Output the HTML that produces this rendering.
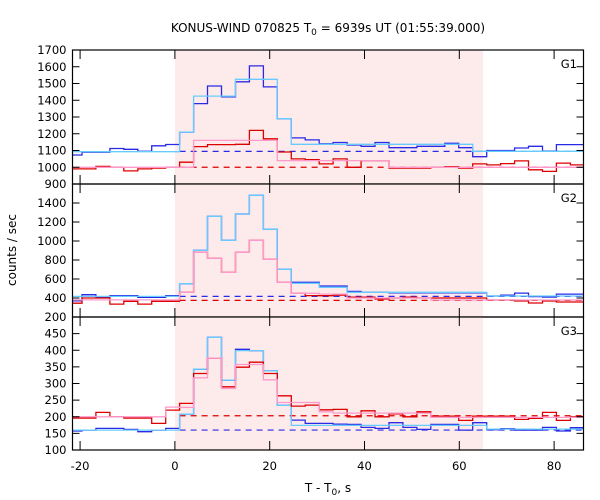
<!DOCTYPE html>
<html><head><meta charset="utf-8">
<style>
html,body{margin:0;padding:0;background:#fff;}
svg{display:block;font-family:"DejaVu Sans","Liberation Sans",sans-serif;}
</style></head>
<body>
<svg id="chart" width="600" height="500" viewBox="0 0 600 500">
  <text x="328" y="32" text-anchor="middle" font-size="12" fill="#000">KONUS-WIND 070825 T<tspan font-size="9" dy="3">0</tspan><tspan dy="-3"> = 6939s UT (01:55:39.000)</tspan></text>
  <text x="328" y="492" text-anchor="middle" font-size="12" fill="#000">T - T<tspan font-size="9" dy="3">0</tspan><tspan dy="-3">, s</tspan></text>
  <text transform="translate(16,250) rotate(-90)" text-anchor="middle" font-size="12" fill="#000">counts / sec</text>
  <g id="panels"></g>
</svg>
<script>
// ---- data ----
const binStart = -22.55;
const binWidth = 2.944;
const xTicks = [-20, 0, 20, 40, 60, 80];
const burstInterval = [0, 65];

const g1Blue = [1073,1090,1090,1112,1107,1095,1128,1136,1210,1380,1485,1420,1510,1605,1480,1290,1175,1163,1140,1148,1133,1125,1148,1117,1117,1125,1125,1143,1117,1063,1100,1100,1115,1125,1097,1135,1135];
const g1Cyan = [1093,1093,1093,1093,1093,1093,1093,1093,1210,1425,1425,1425,1525,1525,1525,1290,1137,1137,1137,1137,1137,1137,1137,1137,1137,1137,1137,1137,1137,1095,1095,1095,1095,1095,1095,1095,1095];
const g1Red = [990,990,1005,1000,978,990,995,1000,1030,1123,1135,1135,1137,1220,1170,1091,1050,1045,1020,1050,1000,1040,1040,995,995,995,1000,1004,995,1020,1014,1022,1038,985,975,1025,1014];
const g1Pink = [1000,1000,1000,1000,1000,1000,1000,1000,1000,1160,1160,1160,1160,1160,1160,1040,1040,1040,1040,1040,1040,1040,1040,1000,1000,1000,1000,1000,1000,1000,1000,1000,1000,1000,1000,1000,1000];
const g1Levels = [1095, 1000];
const g1Ticks = [900,1000,1100,1200,1300,1400,1500,1600,1700];

const g2Blue = [371,435,407,424,424,407,407,424,551,902,1260,1007,1284,1481,1123,702,565,565,526,526,470,460,460,455,455,455,455,455,455,455,421,431,452,415,410,441,441];
const g2Cyan = [417,417,417,417,417,417,417,417,551,902,1260,1007,1284,1481,1123,702,555,555,513,513,460,460,460,460,460,460,460,460,460,460,421,421,421,421,421,421,421];
const g2Red = [345,400,400,336,365,336,365,365,459,880,818,670,881,1007,807,565,450,425,424,431,410,410,389,400,410,400,400,400,400,400,379,379,368,347,368,358,358];
const g2Pink = [380,380,380,380,380,380,380,380,459,880,818,670,881,1007,807,565,449,449,441,441,400,400,400,400,400,400,379,379,379,379,379,379,379,379,379,379,379];
const g2Levels = [417, 375];
const g2Ticks = [200,400,600,800,1000,1200,1400];

const g3Blue = [157,160,165,165,162,155,160,165,208,343,439,310,403,399,338,234,190,180,180,178,177,168,165,182,168,162,177,177,160,182,161,164,160,160,168,157,167];
const g3Cyan = [160,160,160,160,160,160,160,160,208,343,439,310,399,399,338,234,174,174,174,174,174,174,174,174,174,174,174,174,174,174,163,163,163,163,163,163,163];
const g3Red = [196,196,213,200,196,196,180,220,240,330,376,290,349,364,330,263,232,235,221,222,200,218,200,209,200,215,202,202,189,202,202,202,192,195,213,189,200];
const g3Pink = [200,200,200,200,200,200,200,229,228,317,376,285,357,357,311,243,243,243,215,211,211,211,211,211,211,211,198,198,198,198,198,198,198,198,198,198,198];
const g3Levels = [160, 203];
const g3Ticks = [100,150,200,250,300,350,400,450];

// ---- layout ----
const L = 72.5, R = 583.5;
const xMin = -21.6, xMax = 86.2;
const panels = [
  {name:'g1', label:'G1', top:50, bot:184, yMin:900, yMax:1700, ticks:g1Ticks, series:[g1Blue,g1Cyan,g1Red,g1Pink], levels:g1Levels, levelColors:['#2a2ae6','#dd0000']},
  {name:'g2', label:'G2', top:184, bot:317, yMin:200, yMax:1600, ticks:g2Ticks, series:[g2Blue,g2Cyan,g2Red,g2Pink], levels:g2Levels, levelColors:['#2a2ae6','#dd0000']},
  {name:'g3', label:'G3', top:317, bot:450, yMin:100, yMax:500, ticks:g3Ticks, series:[g3Blue,g3Cyan,g3Red,g3Pink], levels:g3Levels, levelColors:['#2a2ae6','#dd0000']}
];
const seriesColors = ['#2a2ae6','#66ccff','#dd0000','#ff99cc'];
const seriesNames = ['observed-hard-counts','model-hard-counts','observed-soft-counts','model-soft-counts'];

const NS = 'http://www.w3.org/2000/svg';
function xs(t){ return L + (t - xMin) / (xMax - xMin) * (R - L); }
function mk(tag, attrs, parent){
  const e = document.createElementNS(NS, tag);
  for (const k in attrs) e.setAttribute(k, attrs[k]);
  parent.appendChild(e);
  return e;
}
const root = document.getElementById('panels');

panels.forEach((p, pi) => {
  const ys = v => p.bot - (v - p.yMin) / (p.yMax - p.yMin) * (p.bot - p.top);
  const g = mk('g', {}, root);
  
  
  const clipId = 'clip' + pi;
  const cp = mk('clipPath', {id: clipId}, g);
  mk('rect', {x: L, y: p.top, width: R - L, height: p.bot - p.top}, cp);

  const shade = mk('rect', {x: xs(burstInterval[0]), y: p.top, width: xs(burstInterval[1]) - xs(burstInterval[0]), height: p.bot - p.top, fill: '#fdeaea'}, g);
  
  

  const content = mk('g', {'clip-path': 'url(#' + clipId + ')'}, g);
  p.levels.forEach((lv, li) => {
    const ln = mk('line', {x1: xs(burstInterval[0] + 1), x2: R, y1: ys(lv), y2: ys(lv), stroke: p.levelColors[li], 'stroke-width': 1.2, 'stroke-dasharray': '6,5'}, content);
    
    
  });
  p.series.forEach((vals, si) => {
    let d = '';
    vals.forEach((v, i) => {
      const x0 = xs(binStart + i * binWidth), x1 = xs(binStart + (i + 1) * binWidth);
      d += (i === 0 ? 'M' + x0.toFixed(1) + ',' + ys(v).toFixed(1) : 'V' + ys(v).toFixed(1)) + 'H' + x1.toFixed(1);
    });
    const path = mk('path', {d: d, fill: 'none', stroke: seriesColors[si], 'stroke-width': 1.3}, content);
    
    
  });

  // frame
  const frame = mk('rect', {x: L, y: p.top, width: R - L, height: p.bot - p.top, fill: 'none', stroke: '#000', 'stroke-width': 1.2}, g);
  
  

  // y ticks
  p.ticks.forEach(v => {
    const y = ys(v);
    mk('line', {x1: L, x2: L + 7, y1: y, y2: y, stroke: '#000', 'stroke-width': 1}, g);
    mk('line', {x1: R, x2: R - 7, y1: y, y2: y, stroke: '#000', 'stroke-width': 1}, g);
    const t = mk('text', {x: L - 6, y: y + 4, 'text-anchor': 'end', 'font-size': 11.5, fill: '#000'}, g);
    t.textContent = v;
    
    
  });
  // x ticks
  xTicks.forEach(v => {
    const x = xs(v);
    mk('line', {x1: x, x2: x, y1: p.top, y2: p.top + 9, stroke: '#000', 'stroke-width': 1}, g);
    mk('line', {x1: x, x2: x, y1: p.bot, y2: p.bot - 9, stroke: '#000', 'stroke-width': 1}, g);
  });
  const lab = mk('text', {x: 577, y: p.top + 18, 'text-anchor': 'end', 'font-size': 11.5, fill: '#000'}, g);
  lab.textContent = p.label;
  
  
});

// x tick labels
xTicks.forEach(v => {
  const t = mk('text', {x: xs(v), y: 470, 'text-anchor': 'middle', 'font-size': 11.5, fill: '#000'}, root);
  t.textContent = v;
  
  
});
</script>
</body></html>
